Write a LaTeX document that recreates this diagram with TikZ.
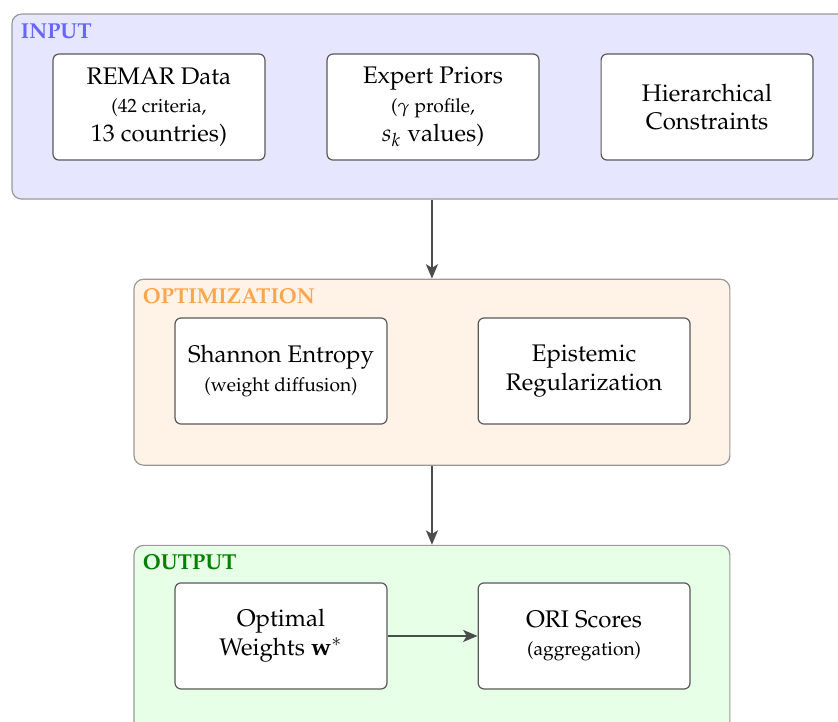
\documentclass[tikz,border=0pt]{standalone}
\usepackage[T1]{fontenc}
\usepackage{mathpazo}
\usepackage{amsmath}
\usetikzlibrary{arrows.meta,positioning}
\definecolor{inBlue}{RGB}{102,102,255}
\definecolor{inFill}{RGB}{230,230,255}
\definecolor{optOrange}{RGB}{255,166,77}
\definecolor{optFill}{RGB}{255,242,230}
\definecolor{outGreen}{RGB}{0,128,0}
\definecolor{outFill}{RGB}{230,255,230}
\tikzset{
  stage/.style={draw=black!40, rounded corners=4pt, line width=0.5pt},
  part/.style={draw=black!65, rounded corners=2.5pt, line width=0.5pt, fill=white, align=center, inner sep=2pt, minimum width=88.3pt, minimum height=44.2pt},
  tag/.style={anchor=north west, inner sep=0pt, font=\small\bfseries},
  arrow/.style={-{Stealth[length=6pt,width=5pt,inset=1.5pt]}, line width=0.8pt, draw=black!70}
}

\begin{document}
\begin{tikzpicture}
  \useasboundingbox (0,0) rectangle (349.2pt,-300.8pt);

  % input stage
  \node[stage, fill=inFill, minimum width=350pt, minimum height=77.1pt] (input) at (180pt,-44.4pt) {};
  \node[tag, text=inBlue] (inputtag) at ([shift={(3.75pt,-4pt)}]input.north west) {INPUT};
  \node[part] (remar) at (66.25pt,-44.6pt) {REMAR Data\\{\footnotesize (42 criteria,}\\13 countries)};
  \node[part, right=25.4pt of remar] (priors) {Expert Priors\\{\footnotesize ($\gamma$ profile,}\\$s_k$ values)};
  \node[part, right=25.4pt of priors] (hier) {Hierarchical\\Constraints};

  % optimization stage
  \node[stage, fill=optFill, minimum width=248.3pt, minimum height=77.5pt, below=32.9pt of input] (optim) {};
  \node[tag, text=optOrange] (optimtag) at ([shift={(3.75pt,-4pt)}]optim.north west) {OPTIMIZATION};
  \node[part] (shannon) at (117.1pt,-154.6pt) {Shannon Entropy\\{\footnotesize (weight diffusion)}};
  \node[part, right=37.5pt of shannon] (epist) {Epistemic\\Regularization};

  % output stage
  \node[stage, fill=outFill, minimum width=248.3pt, minimum height=77.5pt, below=32.9pt of optim] (output) {};
  \node[tag, text=outGreen] (outputtag) at ([shift={(3.75pt,-4pt)}]output.north west) {OUTPUT};
  \node[part] (weights) at (117.1pt,-265pt) {Optimal\\Weights $\mathbf{w}^{*}$};
  \node[part, right=37.5pt of weights] (ori) {ORI Scores\\{\footnotesize (aggregation)}};

  \draw[arrow] (input.south) -- (optim.north);
  \draw[arrow] (optim.south) -- (output.north);
  \draw[arrow] (weights) -- (ori);
\end{tikzpicture}
\end{document}
